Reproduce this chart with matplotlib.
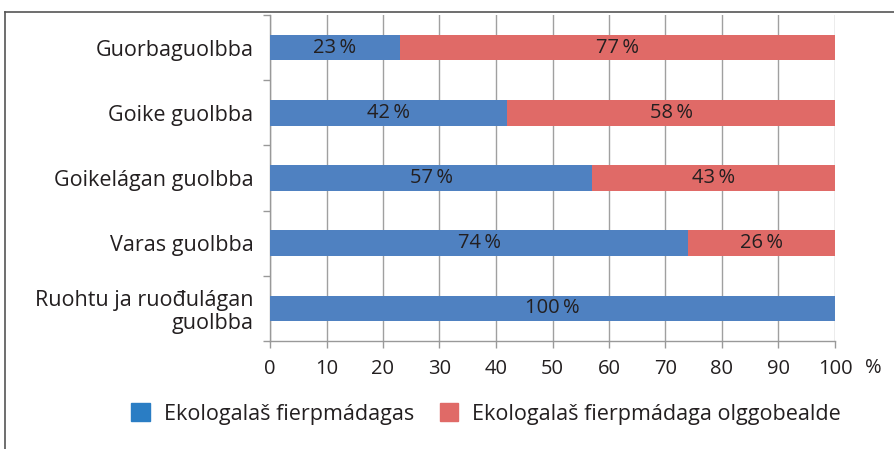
import matplotlib
matplotlib.use("Agg")
import matplotlib.pyplot as plt
from matplotlib.patches import Patch
from matplotlib.lines import Line2D

categories = ["Guorbaguolbba", "Goike guolbba", "Goikelágan guolbba", "Varas guolbba", "Ruohtu ja ruođulágan\nguolbba"]
eco = [23, 42, 57, 74, 100]
not_eco = [77, 58, 43, 26, 0]
series_names = ["Ekologalaš fierpmádagas", "Ekologalaš fierpmádaga olggobealde"]
xticks = [0, 10, 20, 30, 40, 50, 60, 70, 80, 90, 100]

plt.rcParams['font.family'] = ['Open Sans', 'DejaVu Sans']
blue = "#4f81c1"
red = "#e06a67"
txt = "#231f20"
fs = 14.5
fs_lab = 15.5

fig = plt.figure(figsize=(8.95, 4.49), dpi=100)
ax = fig.add_axes([270/895, 1-341/449, (835-270)/895, (341-15)/449])

y = list(range(len(categories)))
ax.barh(y, eco, height=0.39, color=blue, zorder=3)
ax.barh(y, not_eco, left=eco, height=0.39, color=red, zorder=3)

for i in y:
    if eco[i] > 0:
        ax.text(eco[i]/2, i, f"{eco[i]}\u2009%", ha="center", va="center", fontsize=fs, color=txt, zorder=4)
    if not_eco[i] > 0:
        ax.text(eco[i] + not_eco[i]/2, i, f"{not_eco[i]}\u2009%", ha="center", va="center", fontsize=fs, color=txt, zorder=4)

ax.set_xlim(0, 100)
ax.set_ylim(len(categories)-0.5, -0.5)
ax.set_xticks(xticks)
ax.set_xticklabels([str(t) for t in xticks], fontsize=fs, color=txt)
ax.set_yticks(y)
ax.set_yticklabels(categories, fontsize=fs_lab, color=txt, linespacing=1.15)
ax.set_yticks([i - 0.5 for i in range(len(categories)+1)], minor=True)
ax.tick_params(axis="y", which="major", length=0, pad=12)
ax.tick_params(axis="y", which="minor", length=5, color="#999999", width=1)
ax.tick_params(axis="x", which="major", length=5, color="#999999", width=1, pad=8)
ax.grid(axis="x", color="#a0a0a0", linewidth=1, zorder=0)
for s in ["top", "right"]:
    ax.spines[s].set_visible(False)
for s in ["left", "bottom"]:
    ax.spines[s].set_color("#999999")
    ax.spines[s].set_linewidth(1)

fig.text(873/895, 1-368/449, "%", ha="center", va="center", fontsize=fs, color=txt)

handles = [Patch(color="#2a7dc4"), Patch(color=red)]
fig.legend(handles, series_names, loc="center", bbox_to_anchor=(486/895, 1-414/449),
           ncol=2, frameon=False, fontsize=fs_lab, handlelength=0.85, handleheight=0.85,
           columnspacing=1.2, handletextpad=0.65, labelcolor=txt)

fig.add_artist(Line2D([5/895, 5/895], [0, 1-12/449], transform=fig.transFigure, color="#555555", linewidth=1.2))
fig.add_artist(Line2D([5/895, 1], [1-12/449, 1-12/449], transform=fig.transFigure, color="#555555", linewidth=1.2))

fig.savefig("out.png", dpi=100)
